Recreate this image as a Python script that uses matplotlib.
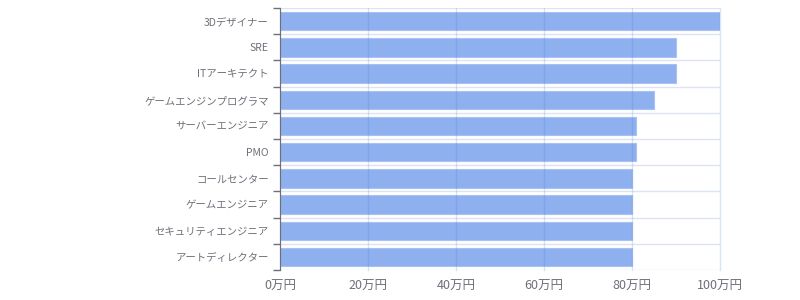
import matplotlib
matplotlib.use("Agg")
import matplotlib.pyplot as plt
import numpy as np

plt.rcParams['font.family'] = ['Noto Sans CJK JP', 'DejaVu Sans']

# data
jobs = ["3Dデザイナー", "SRE", "ITアーキテクト", "ゲームエンジンプログラマ",
        "サーバーエンジニア", "PMO", "コールセンター", "ゲームエンジニア",
        "セキュリティエンジニア", "アートディレクター"]
salary = [100, 90, 90, 85, 81, 80.8, 80, 80, 80, 80]
xticks = [0, 20, 40, 60, 80, 100]
xlabels = ["0万円", "20万円", "40万円", "60万円", "80万円", "100万円"]

fig = plt.figure(figsize=(8, 3), dpi=100)
ax = fig.add_axes([0.35, 0.1, 0.55, 0.873])

y = np.arange(len(jobs))
ax.barh(y, salary, height=0.7, color="#8fb0ef", edgecolor="#a9c1f2",
        linewidth=0.8, zorder=2)

ax.set_xlim(0, 100)
ax.set_ylim(len(jobs) - 0.5, -0.5)

# labels
ax.set_yticks(y)
ax.set_yticklabels(jobs, fontsize=7.5, color="#6e7079")
ax.tick_params(axis="y", which="major", length=0, pad=8)
ax.set_yticks(np.arange(len(jobs) + 1) - 0.5, minor=True)
ax.tick_params(axis="y", which="minor", length=5, color="#6e7079", width=1)

ax.set_xticks(xticks)
ax.set_xticklabels(xlabels, fontsize=9, color="#6e7079")
ax.tick_params(axis="x", length=0, pad=7)

# grid lines
ax.grid(axis="y", which="minor", color="#dde3f3", linewidth=1, zorder=1)
for v in xticks:
    ax.axvline(v, color="#3373c3", alpha=0.18, linewidth=1, zorder=3,
               clip_on=False)

for s in ["top", "right", "bottom"]:
    ax.spines[s].set_visible(False)
ax.spines["left"].set_color("#6e7079")
ax.spines["left"].set_zorder(4)

fig.savefig("out.png", dpi=100)
